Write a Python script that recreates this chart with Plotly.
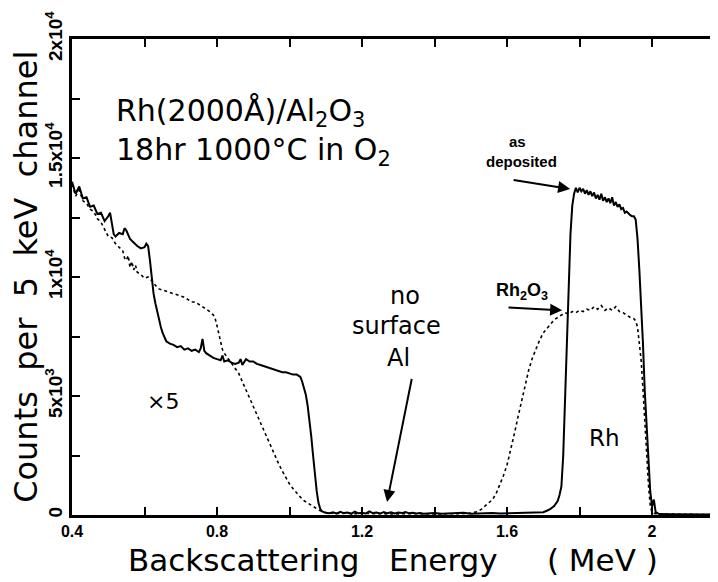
import plotly.graph_objects as go

# ---- data: as-deposited Rh (solid) ----
dep_E = [0.400, 0.410, 0.420, 0.430, 0.440, 0.450, 0.460, 0.470, 0.480, 0.490,
         0.500, 0.505, 0.510, 0.515, 0.520, 0.530, 0.540, 0.545, 0.550, 0.560,
         0.570, 0.580, 0.590, 0.600, 0.605, 0.610, 0.615, 0.620, 0.625, 0.630,
         0.635, 0.640, 0.645, 0.650, 0.655, 0.660, 0.670, 0.680, 0.690, 0.700,
         0.710, 0.720, 0.730, 0.740, 0.750, 0.755, 0.760, 0.765, 0.770, 0.780,
         0.790, 0.800, 0.810, 0.815, 0.820, 0.830, 0.840, 0.850, 0.860, 0.865,
         0.870, 0.880, 0.890, 0.900, 0.910, 0.920, 0.930, 0.940, 0.950, 0.960,
         0.970, 0.980, 0.990, 1.000, 1.010, 1.020, 1.030, 1.035, 1.040, 1.045,
         1.050, 1.055, 1.060, 1.065, 1.070, 1.075, 1.080, 1.085, 1.090, 1.100,
         1.110, 1.120, 1.130, 1.140, 1.150, 1.160, 1.170, 1.180, 1.190, 1.200,
         1.210, 1.220, 1.230, 1.240, 1.250, 1.260, 1.270, 1.280, 1.290, 1.300,
         1.310, 1.320, 1.330, 1.340, 1.350, 1.360, 1.370, 1.380, 1.390, 1.400,
         1.420, 1.440, 1.460, 1.480, 1.500, 1.520, 1.540, 1.560, 1.580, 1.600,
         1.620, 1.640, 1.660, 1.680, 1.700, 1.710, 1.720, 1.730, 1.740, 1.745,
         1.750, 1.755, 1.760, 1.765, 1.770, 1.775, 1.780, 1.785, 1.790, 1.795,
         1.800, 1.805, 1.810, 1.815, 1.820, 1.825, 1.830, 1.835, 1.840, 1.845,
         1.850, 1.855, 1.860, 1.865, 1.870, 1.875, 1.880, 1.885, 1.890, 1.895,
         1.900, 1.905, 1.910, 1.915, 1.920, 1.925, 1.930, 1.935, 1.940, 1.945,
         1.950, 1.955, 1.960, 1.965, 1.970, 1.975, 1.980, 1.985, 1.990, 1.995,
         2.000, 2.005, 2.010, 2.020, 2.050, 2.100, 2.150, 2.193]
dep_C = [14000, 13500, 13800, 13300, 13350, 12950, 13000, 12650, 12700, 12350,
         12550, 12700, 12250, 11800, 11700, 11850, 11800, 12050, 11950, 11600,
         11450, 11300, 11200, 11250, 11400, 11300, 10700, 9900, 9300, 8900,
         8550, 8200, 7900, 7650, 7450, 7300, 7200, 7150, 7050, 7100,
         6950, 7000, 6900, 6950, 6850, 7000, 7400, 6900, 6800, 6700,
         6600, 6550, 6500, 6700, 6450, 6500, 6400, 6350, 6400, 6550,
         6300, 6550, 6450, 6450, 6350, 6300, 6250, 6200, 6150, 6100,
         6050, 6000, 6000, 5950, 5900, 5900, 5800, 5600, 5350, 5050,
         4600, 4000, 3300, 2500, 1700, 1000, 500, 250, 150, 90,
         70, 110, 60, 130, 80, 100, 50, 140, 70, 90,
         60, 150, 80, 100, 60, 120, 70, 110, 60, 100,
         80, 120, 70, 90, 60, 80, 50, 70, 60, 80,
         50, 70, 60, 90, 50, 70, 60, 80, 60, 70,
         90, 80, 100, 110, 120, 180, 260, 380, 600, 850,
         1200, 2500, 4800, 7400, 9800, 11800, 13000, 13500, 13750, 13550,
         13750, 13600, 13700, 13500, 13650, 13450, 13600, 13400, 13550, 13300,
         13450, 13250, 13500, 13200, 13350, 13150, 13300, 13100, 13350, 13000,
         13150, 12950, 13050, 12850, 12900, 12700, 12750, 12650, 12600, 12550,
         12550, 12400, 11600, 10300, 9000, 7200, 5200, 3600, 2200, 1000,
         350, 650, 120, 40, 30, 25, 20, 20]

# ---- data: after 18 hr at 1000 C in O2 (dotted, Rh2O3) ----
ann_E = [0.400, 0.410, 0.420, 0.430, 0.440, 0.450, 0.460, 0.470, 0.480, 0.490,
         0.500, 0.510, 0.520, 0.530, 0.540, 0.545, 0.550, 0.555, 0.560, 0.565,
         0.570, 0.575, 0.580, 0.590, 0.600, 0.610, 0.620, 0.630, 0.640, 0.650,
         0.660, 0.670, 0.680, 0.690, 0.700, 0.710, 0.720, 0.730, 0.740, 0.750,
         0.760, 0.770, 0.780, 0.790, 0.795, 0.800, 0.805, 0.810, 0.815, 0.820,
         0.830, 0.840, 0.850, 0.860, 0.870, 0.880, 0.890, 0.900, 0.910, 0.920,
         0.930, 0.940, 0.950, 0.960, 0.970, 0.980, 0.990, 1.000, 1.010, 1.020,
         1.030, 1.040, 1.050, 1.060, 1.070, 1.080, 1.090, 1.100, 1.120, 1.140,
         1.160, 1.180, 1.200, 1.220, 1.240, 1.260, 1.280, 1.300, 1.320, 1.340,
         1.360, 1.380, 1.400, 1.420, 1.440, 1.460, 1.480, 1.500, 1.510, 1.520,
         1.530, 1.540, 1.550, 1.560, 1.570, 1.580, 1.590, 1.600, 1.610, 1.620,
         1.630, 1.640, 1.650, 1.660, 1.670, 1.680, 1.690, 1.700, 1.710, 1.720,
         1.730, 1.740, 1.750, 1.760, 1.770, 1.780, 1.790, 1.800, 1.810, 1.820,
         1.830, 1.840, 1.850, 1.860, 1.870, 1.880, 1.890, 1.900, 1.910, 1.920,
         1.930, 1.940, 1.950, 1.955, 1.960, 1.965, 1.970, 1.975, 1.980, 1.985,
         1.990, 1.995, 2.000, 2.010, 2.050, 2.100, 2.193]
ann_C = [13900, 13400, 13650, 13200, 13100, 12850, 12750, 12450, 12300, 12000,
         11700, 11650, 11400, 11250, 11100, 10800, 10700, 10900, 10400, 10650,
         10300, 10500, 10200, 10100, 9950, 10000, 9850, 9650, 9500, 9450,
         9400, 9350, 9300, 9250, 9200, 9150, 9050, 8950, 8950, 8850,
         8750, 8650, 8550, 8400, 8250, 7950, 7600, 7200, 6950, 6800,
         6600, 6400, 6200, 5950, 5600, 5250, 4900, 4550, 4200, 3850,
         3500, 3150, 2800, 2450, 2150, 1850, 1550, 1300, 1100, 900,
         750, 600, 500, 400, 300, 220, 150, 100, 80, 60,
         90, 50, 70, 60, 80, 50, 60, 40, 60, 50,
         40, 50, 40, 50, 45, 55, 60, 80, 100, 150,
         250, 380, 500, 650, 900, 1250, 1650, 2100, 2700, 3400,
         4100, 4800, 5500, 6100, 6600, 7000, 7350, 7650, 7850, 8050,
         8200, 8300, 8400, 8500, 8450, 8550, 8500, 8600, 8550, 8650,
         8600, 8750, 8650, 8800, 8600, 8700, 8600, 8750, 8550, 8500,
         8400, 8300, 8250, 8150, 7900, 7300, 6500, 5300, 3800, 2500,
         1300, 400, 100, 50, 30, 25, 20]

x_tick_vals = [0.4, 0.6, 0.8, 1.0, 1.2, 1.4, 1.6, 1.8, 2.0]
x_tick_text = ["<b>0.4</b>", "", "<b>0.8</b>", "", "<b>1.2</b>", "", "<b>1.6</b>", "", "<b>2</b>"]
y_tick_vals = [0, 2500, 5000, 7500, 10000, 12500, 15000, 17500, 20000]
y_tick_text = ["<b>0</b>", "", "<b>5x10<sup>3</sup></b>", "", "<b>1x10<sup>4</sup></b>", "",
               "<b>1.5x10<sup>4</sup></b>", "", "<b>2x10<sup>4</sup></b>"]

BIG = "DejaVu Sans"
fig = go.Figure()
fig.add_trace(go.Scatter(x=ann_E, y=ann_C, mode="lines",
                         line=dict(color="black", width=1.6, dash="dot")))
fig.add_trace(go.Scatter(x=dep_E, y=dep_C, mode="lines",
                         line=dict(color="black", width=2)))

axis_common = dict(ticks="inside", ticklen=8, tickwidth=1.5, tickcolor="black",
                   showline=True, linewidth=2.5, linecolor="black", mirror="ticks",
                   showgrid=False, zeroline=False, automargin=False)
fig.update_xaxes(range=[0.4, 2.193], tickvals=x_tick_vals, ticktext=x_tick_text,
                 tickfont=dict(family="Liberation Sans", size=16, color="black"), **axis_common)
fig.update_yaxes(range=[0, 20000], tickvals=y_tick_vals, ticktext=y_tick_text,
                 tickfont=dict(family="Liberation Sans", size=19, color="black"),
                 tickangle=-90, **axis_common)

def txt(x, y, s, size, family=BIG, xanchor="center", bold=False, align="center"):
    fig.add_annotation(x=x, y=y, text=(f"<b>{s}</b>" if bold else s), showarrow=False,
                       xanchor=xanchor, yanchor="middle", align=align,
                       font=dict(family=family if not bold else "Liberation Sans", size=size, color="black"))

txt(0.515, 16100, "Rh(2000Å)/Al<sub>2</sub>O<sub>3</sub><br>18hr 1000°C in O<sub>2</sub>", 30,
    xanchor="left", align="left")
txt(1.628, 15683, "as", 15, bold=True)
txt(1.641, 14840, "deposited", 15, bold=True)
txt(1.641, 9402, "Rh<sub>2</sub>O<sub>3</sub>", 18, bold=True)
txt(1.319, 9191, "no", 24)
txt(1.294, 7926, "surface", 24)
txt(1.302, 6577, "Al", 24)
txt(0.651, 4764, "×5", 22)
txt(1.870, 3246, "Rh", 23)

def arrow(x0, y0, x1, y1):
    fig.add_annotation(x=x1, y=y1, ax=x0, ay=y0, axref="x", ayref="y", xref="x", yref="y",
                       text="", showarrow=True, arrowhead=2, arrowsize=1.2, arrowwidth=2,
                       arrowcolor="black")

arrow(1.614, 14081, 1.774, 13702)
arrow(1.600, 8727, 1.752, 8600)
arrow(1.338, 5776, 1.269, 548)

# axis titles
fig.add_annotation(xref="paper", yref="paper", x=-0.071, y=0.5, textangle=-90,
                   text="Counts\u00a0 per\u00a0 5\u00a0 keV\u00a0 channel", showarrow=False,
                   xanchor="center", yanchor="middle",
                   font=dict(family=BIG, size=32, color="black"))
fig.add_annotation(xref="paper", yref="paper", x=0.494, y=-0.095,
                   text="Backscattering\u00a0\u00a0\u00a0Energy\u00a0\u00a0\u00a0\u00a0\u00a0(\u00a0MeV\u00a0)",
                   showarrow=False, xanchor="center", yanchor="middle",
                   font=dict(family=BIG, size=31, color="black"))

# page body adds an 8px margin, so the figure is offset by (8, 8)
fig.update_layout(width=714, height=574, margin=dict(l=64, r=0, t=31, b=67),
                  plot_bgcolor="white", paper_bgcolor="white", showlegend=False)

fig.write_html("out.html")
